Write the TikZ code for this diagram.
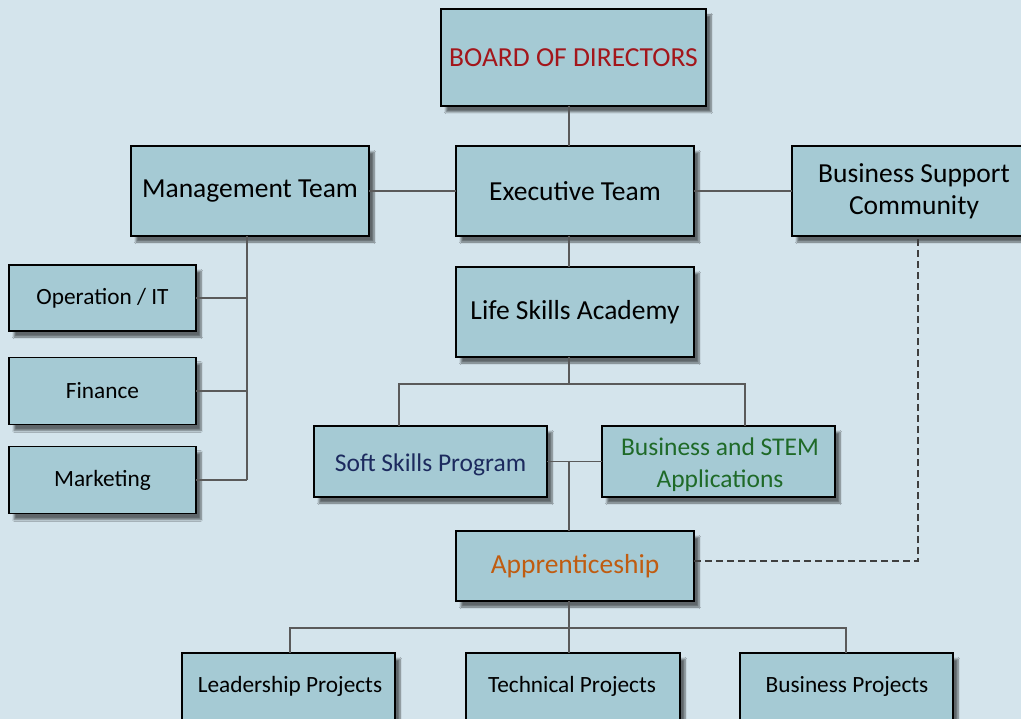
\documentclass[tikz,border=0pt]{standalone}
\usepackage{fontspec}
\setmainfont{Carlito}
\usetikzlibrary{shadows,shadows.blur}
\definecolor{bgc}{HTML}{D4E4EC}
\definecolor{boxc}{HTML}{A5CAD4}
\definecolor{linec}{HTML}{5A5A5A}
\definecolor{redc}{HTML}{A3161B}
\definecolor{navyc}{HTML}{1C2A5E}
\definecolor{greenc}{HTML}{1F6A28}
\definecolor{orangec}{HTML}{C05C10}
\tikzset{
  box/.style={draw=black, line width=1.3pt, fill=boxc, inner sep=0pt, outer sep=0pt,
    align=center, text=black, blur shadow={shadow xshift=5pt, shadow yshift=-6pt, shadow blur steps=6, shadow opacity=55}},
  conn/.style={draw=linec, line width=1.4pt},
  dconn/.style={draw=linec!70!black, line width=2.4pt, dash pattern=on 7pt off 4pt},
  big/.style={font=\fontsize{27.5}{32}\selectfont},
  mid/.style={font=\fontsize{25.5}{32}\selectfont},
  small/.style={font=\fontsize{23.3}{26}\selectfont}
}
\begin{document}
\begin{tikzpicture}[x=1pt,y=-1pt]
\fill[bgc] (0,0) rectangle (1021,719);
\useasboundingbox (0,0) rectangle (1021,719);
% nodes
\node[box, big, minimum width=265pt, minimum height=97pt, text=redc] (board) at (573.5,57.5) {BOARD OF DIRECTORS};
\node[box, big, minimum width=238pt, minimum height=90pt] (mgmt) at (250,191) {Management Team};
\node[box, big, minimum width=238pt, minimum height=90pt] (exec) at (575,191) {Executive Team};
\node[box, big, minimum width=244pt, minimum height=90pt] (bsc) at (914,191) {Business Support\\Community};
\node[box, small, minimum width=187pt, minimum height=66pt] (ops) at (102.5,298) {Operation / IT};
\node[box, small, minimum width=187pt, minimum height=67pt] (fin) at (102.5,391) {Finance};
\node[box, small, minimum width=187pt, minimum height=67pt] (mkt) at (102.5,480) {Marketing};
\node[box, big, minimum width=238pt, minimum height=90pt] (lsa) at (575,312) {Life Skills Academy};
\node[box, minimum width=233pt, minimum height=71pt] (soft) at (430.5,461.5) {};
\node[box, minimum width=233pt, minimum height=71pt] (stem) at (718.5,461.5) {};
\node[mid, text=navyc] (softt) at (430.5,465) {Soft Skills Program};
\node[mid, text=greenc, align=center] (stemt) at (720,465) {Business and STEM\\Applications};
\node[box, big, minimum width=238pt, minimum height=70pt, text=orangec] (app) at (575,566) {Apprenticeship};
\node[box, minimum width=213pt, minimum height=90pt] (lead) at (288.5,698) {};
\node[box, minimum width=214pt, minimum height=90pt] (tech) at (573,698) {};
\node[box, minimum width=213pt, minimum height=90pt] (busp) at (846.5,698) {};
\node[small] (leadt) at (290,686) {Leadership Projects};
\node[small] (techt) at (572,686) {Technical Projects};
\node[small] (buspt) at (847,686) {Business Projects};
% coordinates
\coordinate (mj) at (247,236);
\coordinate (mb) at (247,480);
\coordinate (lj) at (569,384);
\coordinate (ljl) at (399,384);
\coordinate (ljr) at (745,384);
\coordinate (sj) at (569,461);
\coordinate (aj) at (569,628);
\coordinate (ajl) at (290,628);
\coordinate (ajr) at (846,628);
\coordinate (dc) at (918,561);
% connectors
\draw[conn] (569,106) -- (569,146);
\draw[conn] (mgmt.east) -- (exec.west);
\draw[conn] (exec.east) -- (exec.east -| bsc.west);
\draw[conn] (mj) -- (mb);
\draw[conn] (ops.east) -- (ops.east -| mj);
\draw[conn] (fin.east) -- (fin.east -| mj);
\draw[conn] (mkt.east) -- (mb);
\draw[conn] (569,236) -- (569,267);
\draw[conn] (569,357) -- (lj);
\draw[conn] (soft.north -| ljl) -- (ljl) -- (ljr) -- (stem.north -| ljr);
\draw[conn] (soft.east) -- (soft.east -| stem.west);
\draw[conn] (sj) -- (569,531);
\draw[conn] (569,601) -- (aj);
\draw[conn] (lead.north -| ajl) -- (ajl) -- (ajr) -- (busp.north -| ajr);
\draw[conn] (aj) -- (aj |- tech.north);
\draw[dconn] (app.east |- dc) -- (dc) -- (dc |- bsc.south);
\end{tikzpicture}
\end{document}
